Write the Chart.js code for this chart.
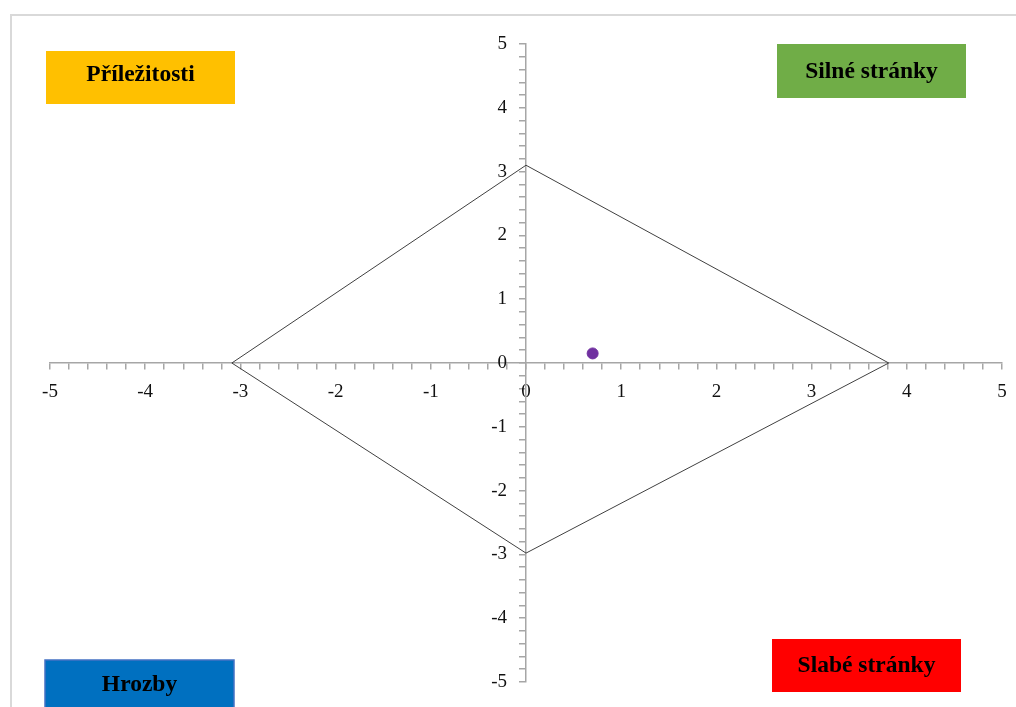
<!DOCTYPE html>
<html>
<head>
<meta charset="utf-8">
<script src="https://cdn.jsdelivr.net/npm/chart.js@4"></script>
<style>
  html, body { margin: 0; padding: 0; background: #fff; }
  #wrap { width: 1016px; height: 707px; }
</style>
</head>
<body>
<div id="wrap"><canvas id="swot-chart" width="1016" height="707"></canvas></div>
<script>
// diamond vertices (x, y)
const diamondX = [0, 3.81, 0, -3.09, 0];
const diamondY = [3.10, 0, -2.98, 0, 3.10];
// the single position point
const pointX = [0.70];
const pointY = [0.15];
// quadrant labels
const boxLabels = ['Příležitosti', 'Silné stránky', 'Hrozby', 'Slabé stránky'];
const boxColors = ['#FFC000', '#70AD47', '#0070C0', '#FF0000'];

const axisMin = -5, axisMax = 5;

const quadrantBoxes = {
    id: 'quadrantBoxes',
    beforeDraw(chart) {
        const ctx = chart.ctx;
        ctx.save();
        ctx.strokeStyle = '#D9D9D9';
        ctx.lineWidth = 2;
        ctx.strokeRect(11, 15, 1100, 800);
        ctx.restore();
    },
    afterDraw(chart) {
        const ctx = chart.ctx;
        // left, top, width, height, text centre offset
        const spots = [[46, 51, 189, 53, 24], [777, 44, 189, 54, 28], [45, 660, 189, 54, 25], [772, 639, 189, 53, 27]];
        ctx.save();
        spots.forEach((s, i) => {
            ctx.fillStyle = boxColors[i];
            ctx.fillRect(s[0], s[1], s[2], s[3]);
            if (i == 2) {   // blue box has a thin outline
                ctx.strokeStyle = '#4472C4';
                ctx.lineWidth = 1.5;
                ctx.strokeRect(s[0], s[1], s[2], s[3]);
            }
            ctx.fillStyle = '#000';
            ctx.font = 'bold 23.5px "Liberation Serif"';
            ctx.textAlign = 'center';
            ctx.textBaseline = 'middle';
            ctx.fillText(boxLabels[i], s[0] + s[2] / 2, s[1] + s[4]);
        });
        ctx.restore();
    }
};

const tickLabel = (v) => Math.abs(v - Math.round(v)) < 1e-6 ? String(Math.round(v)) : '';
// y labels sit right on a centred axis, so push them off it with spaces
const yTickLabel = (v) => { const t = tickLabel(v); return t ? t + '    ' : ''; };

const axisGrey = '#A6A6A6';

new Chart(document.getElementById("swot-chart"), {
    type: 'scatter',
    data: {
        datasets: [{
            label: "diamond",
            data: diamondX.map((x, i) => ({x: x, y: diamondY[i]})),
            showLine: true,
            borderColor: '#404040',
            borderWidth: 1,
            pointRadius: 0,
            fill: false,
        }, {
            label: "position",
            data: pointX.map((x, i) => ({x: x, y: pointY[i]})),
            backgroundColor: '#7030A0',
            borderColor: '#7030A0',
            pointRadius: 5.5,
        }]
    },
    options: {
        responsive: false,
        animation: false,
        layout: { padding: { left: 50, right: 14, top: 44, bottom: 25 } },
        plugins: {
            legend: { display: false },
            tooltip: { enabled: false }
        },
        scales: {
            x: {
                type: 'linear',
                min: axisMin,
                max: axisMax,
                position: { y: 0 },
                // tick padding would otherwise widen the right margin
                afterFit: (scale) => { scale.paddingRight = 0; scale.paddingLeft = 0; },
                border: { color: axisGrey, width: 1.5 },
                grid: { drawOnChartArea: false, drawTicks: true, tickLength: 6, color: axisGrey, lineWidth: 1.5 },
                ticks: {
                    stepSize: 0.2,
                    autoSkip: false,
                    maxRotation: 0,
                    padding: 12,
                    color: '#111',
                    font: { family: '"Liberation Serif"', size: 19 },
                    callback: tickLabel
                }
            },
            y: {
                type: 'linear',
                min: axisMin,
                max: axisMax,
                position: { x: 0 },
                border: { color: axisGrey, width: 1.5 },
                grid: { drawOnChartArea: false, drawTicks: true, tickLength: 6, color: axisGrey, lineWidth: 1.5 },
                ticks: {
                    stepSize: 0.2,
                    autoSkip: false,
                    color: '#111',
                    font: { family: '"Liberation Serif"', size: 19 },
                    callback: yTickLabel
                }
            }
        }
    },
    plugins: [quadrantBoxes]
});
</script>
</body>
</html>
